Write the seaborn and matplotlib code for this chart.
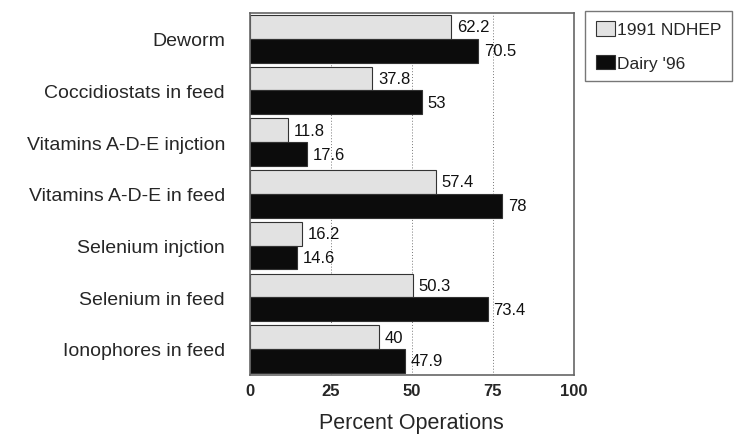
import pandas as pd
import matplotlib.pyplot as plt
import seaborn as sns

# data
categories = ["Deworm", "Coccidiostats in feed", "Vitamins A-D-E injction",
              "Vitamins A-D-E in feed", "Selenium injction", "Selenium in feed",
              "Ionophores in feed"]
ndhep_1991 = [62.2, 37.8, 11.8, 57.4, 16.2, 50.3, 40]
dairy_96 = [70.5, 53, 17.6, 78, 14.6, 73.4, 47.9]
series = ["1991 NDHEP", "Dairy '96"]
xticks = [0, 25, 50, 75, 100]

df = pd.DataFrame({
    "category": categories * 2,
    "value": ndhep_1991 + dairy_96,
    "series": [series[0]] * len(categories) + [series[1]] * len(categories),
})

sns.set_style("white")
plt.rcParams["font.family"] = ["Liberation Sans", "DejaVu Sans"]

fig = plt.figure(figsize=(7.46, 4.35), dpi=100)
ax = fig.add_axes([0.335, 0.136, 0.434, 0.832])

sns.barplot(data=df, y="category", x="value", hue="series", orient="h",
            palette=["#e2e2e2", "#0c0c0c"], width=0.92, edgecolor="#333333",
            linewidth=0.8, ax=ax)

for cont in ax.containers:
    labels = ["%g" % v for v in cont.datavalues]
    ax.bar_label(cont, labels=labels, padding=4, fontsize=12, color="#111111")

ax.set_xlim(0, 100)
ax.set_xticks(xticks)
ax.set_xticklabels([str(t) for t in xticks], fontsize=12, fontweight="bold")
ax.tick_params(axis="y", labelsize=14, length=0, pad=18)
ax.tick_params(axis="x", length=0, pad=6)
ax.set_ylabel("")
ax.set_xlabel("Percent Operations", fontsize=15.5, labelpad=10)

for x in [25, 50, 75]:
    ax.axvline(x, color="#777777", linestyle=(0, (1, 2)), linewidth=0.7, zorder=0)

for sp in ax.spines.values():
    sp.set_visible(True)
    sp.set_color("#666666")
    sp.set_linewidth(1.2)

leg = ax.legend(loc="upper left", bbox_to_anchor=(1.036, 1.006), frameon=True,
                fancybox=False, edgecolor="#555555", fontsize=12.5,
                handlelength=1.1, handleheight=0.9, handletextpad=0.15,
                borderpad=0.6, labelspacing=1.0, borderaxespad=0)
leg.get_frame().set_linewidth(1.0)

fig.savefig("out.png", dpi=100)
